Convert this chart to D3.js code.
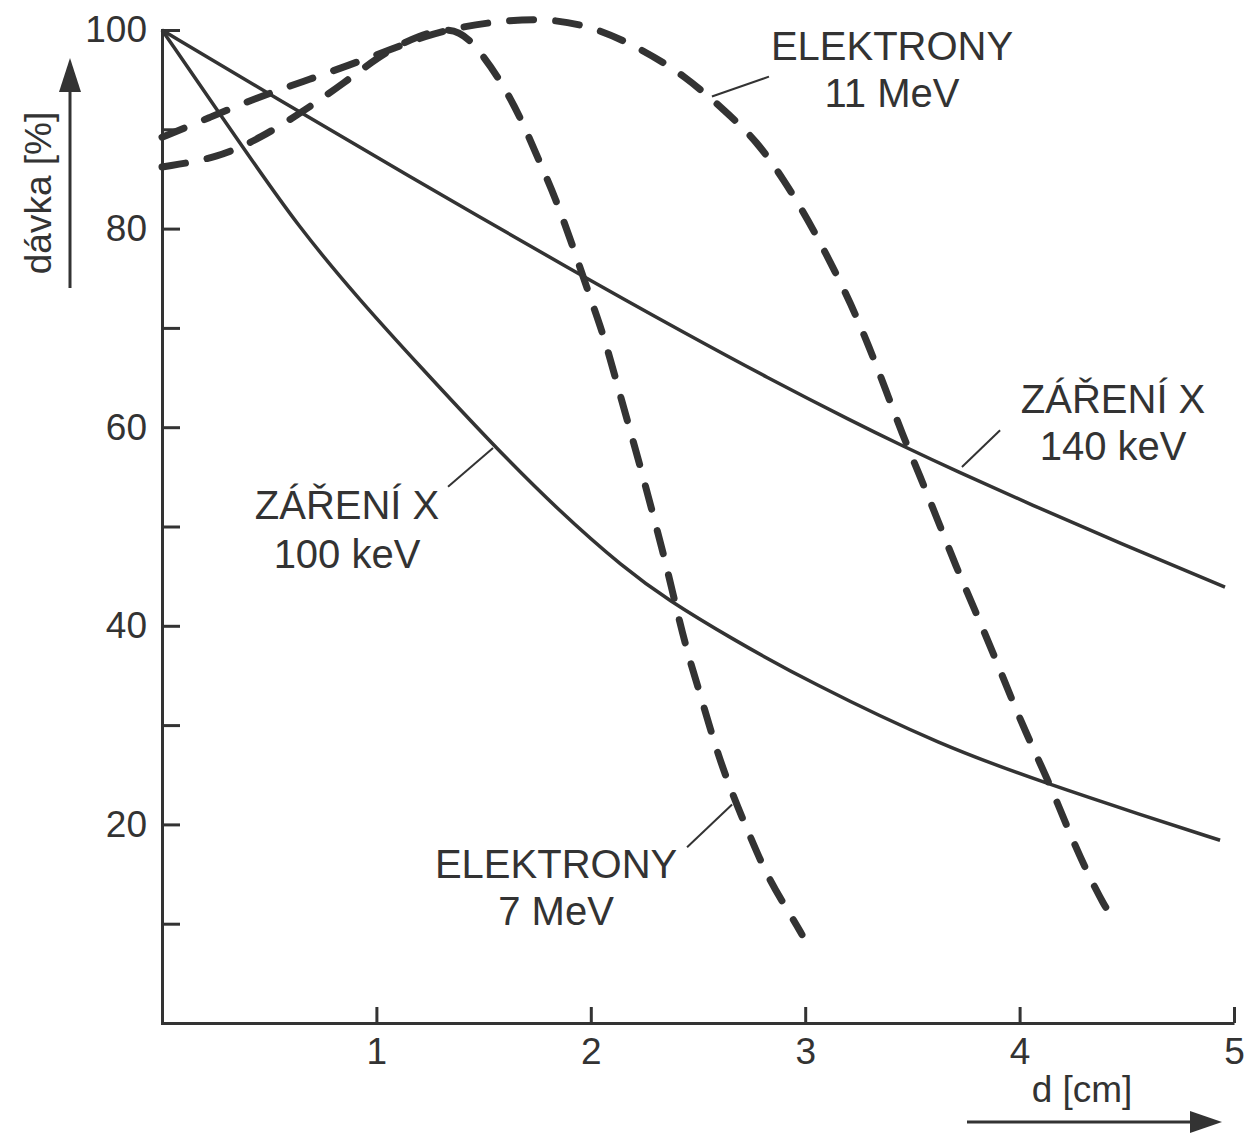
<!DOCTYPE html>
<html>
<head>
<meta charset="utf-8">
<script src="https://cdn.jsdelivr.net/npm/d3@7"></script>
<style>
  body { margin: 0; background: #fff; }
  text { font-family: "Liberation Sans", Arial, sans-serif; fill: #333; }
</style>
</head>
<body>
<script>
// depth d [cm], dose [%]
let xray100 = [[0,100],[0.364,88.6],[0.634,80.2],[0.93,72.6],[1.2,66.2],[1.544,58.2],[1.85,51.6],
  [2.155,45.8],[2.36,42.6],[2.649,38.8],[3.022,34.3],[3.638,27.9],[4.142,24.0],[4.562,21.0],[4.935,18.4]];
let xray140 = [[0,100],[0.536,93.1],[1.110,85.8],[1.936,75.5],[2.453,69.3],[2.813,65.1],[3.228,60.5],
  [3.456,58.1],[3.703,55.6],[4.053,52.2],[4.46,48.4],[4.958,43.9]];
let el7 = [[0,86.2],[0.261,87.1],[0.466,89.2],[0.658,91.8],[0.845,94.6],[1.040,97.8],[1.203,99.5],
  [1.343,100.3],[1.437,99.2],[1.576,95.1],[1.679,90.9],[1.763,86.6],[1.833,83.2],[1.92,78.0],[2.006,72.5],
  [2.062,69.1],[2.122,64.4],[2.183,59.7],[2.239,55.4],[2.299,50.5],[2.351,46.2],[2.402,41.5],[2.453,37.1],
  [2.519,32.5],[2.584,27.6],[2.659,23.1],[2.743,18.8],[2.826,14.6],[2.948,10.3],[2.985,8.9]];
let el11 = [[0,89.2],[0.224,91.2],[0.443,93.2],[0.658,94.8],[0.877,96.5],[1.063,98.0],[1.227,99.4],
  [1.390,100.3],[1.576,100.9],[1.791,101.2],[2.020,100.3],[2.243,98.0],[2.439,95.4],[2.635,91.7],
  [2.775,88.8],[2.901,84.9],[3.013,80.9],[3.116,76.7],[3.214,72.4],[3.298,68.1],[3.377,63.7],[3.451,59.4],
  [3.535,55.1],[3.619,50.6],[3.703,46.0],[3.787,41.8],[3.876,37.3],[3.965,32.5],[4.049,28.3],[4.142,24.0],
  [4.226,19.5],[4.314,15.2],[4.398,11.7],[4.431,10.7]];

let xTicks = [1, 2, 3, 4, 5];
let yTicks = [10, 20, 30, 40, 50, 60, 70, 80, 90, 100];
let yLabels = [20, 40, 60, 80, 100];

// labels: text lines, centre + baselines, leader line (all in data units)
let notes = [
  { lines: ["ELEKTRONY", "11 MeV"], x: 3.405, y: [97.0, 92.2], from: [2.831, 95.3], to: [2.565, 93.3] },
  { lines: ["ZÁŘENÍ X", "140 keV"], x: 4.436, y: [61.4, 56.7], from: [3.909, 59.7], to: [3.731, 56.0] },
  { lines: ["ZÁŘENÍ X", "100 keV"], x: 0.863, y: [50.8, 45.8], from: [1.334, 54.0], to: [1.544, 57.9] },
  { lines: ["ELEKTRONY", "7 MeV"], x: 1.838, y: [14.6, 9.9], from: [2.449, 17.7], to: [2.659, 22.0] }
];

let w = 1252, h = 1135;
let ink = "#333";

let x = d3.scaleLinear().domain([0, 5]).range([162, 1234]);
let y = d3.scaleLinear().domain([0, 100]).range([1023, 30]);

let svg = d3.select("body").append("svg")
  .attr("width", w)
  .attr("height", h);

// axes
let xAxis = svg.append("g")
  .attr("transform", "translate(0," + y(0) + ")")
  .call(d3.axisBottom(x).tickValues(xTicks).tickFormat(d3.format("d"))
    .tickSize(-16).tickSizeOuter(0).tickPadding(15));

let yAxis = svg.append("g")
  .attr("transform", "translate(" + x(0) + ",0)")
  .call(d3.axisLeft(y).tickValues(yTicks).tickSize(-18).tickSizeOuter(0).tickPadding(15)
    .tickFormat((d) => { return yLabels.includes(d) ? d : ""; }));

[xAxis, yAxis].forEach((g) => {
  g.selectAll("path, line").attr("stroke", ink).attr("stroke-width", 3);
  g.selectAll("text").attr("font-size", 37).attr("fill", ink)
    .attr("font-family", "'Liberation Sans', Arial, sans-serif");
});
yAxis.select(".domain").attr("stroke-linecap", "square");

// curves (smoothed through the read-off points)
let line = d3.line()
  .x((d) => { return x(d[0]); })
  .y((d) => { return y(d[1]); })
  .curve(d3.curveBasis);

[xray100, xray140].forEach((s) => {
  svg.append("path")
    .datum(s)
    .attr("d", line)
    .attr("fill", "none")
    .attr("stroke", ink)
    .attr("stroke-width", 3.5);
});

[el7, el11].forEach((s) => {
  svg.append("path")
    .datum(s)
    .attr("d", line)
    .attr("fill", "none")
    .attr("stroke", ink)
    .attr("stroke-width", 7)
    .attr("stroke-linecap", "round")
    .attr("stroke-dasharray", "24,22");
});

// annotations
notes.forEach((n) => {
  svg.append("line")
    .attr("x1", x(n.from[0])).attr("y1", y(n.from[1]))
    .attr("x2", x(n.to[0])).attr("y2", y(n.to[1]))
    .attr("stroke", ink)
    .attr("stroke-width", 2);
  n.lines.forEach((t, i) => {
    svg.append("text")
      .text(t)
      .attr("x", x(n.x))
      .attr("y", y(n.y[i]))
      .attr("text-anchor", "middle")
      .attr("font-size", 40);
  });
});

// axis titles with arrows
svg.append("text")
  .text("dávka [%]")
  .attr("transform", "translate(51,193) rotate(-90)")
  .attr("text-anchor", "middle")
  .attr("font-size", 37);

svg.append("line")
  .attr("x1", 70).attr("y1", 288).attr("x2", 70).attr("y2", 88)
  .attr("stroke", ink).attr("stroke-width", 3);
svg.append("path")
  .attr("d", "M70,58 L59,92 L81,92 Z")
  .attr("fill", ink);

svg.append("text")
  .text("d [cm]")
  .attr("x", 1082)
  .attr("y", 1102)
  .attr("text-anchor", "middle")
  .attr("font-size", 37);

svg.append("line")
  .attr("x1", 967).attr("y1", 1122).attr("x2", 1195).attr("y2", 1122)
  .attr("stroke", ink).attr("stroke-width", 3);
svg.append("path")
  .attr("d", "M1222,1122 L1190,1111 L1190,1133 Z")
  .attr("fill", ink);
</script>
</body>
</html>
